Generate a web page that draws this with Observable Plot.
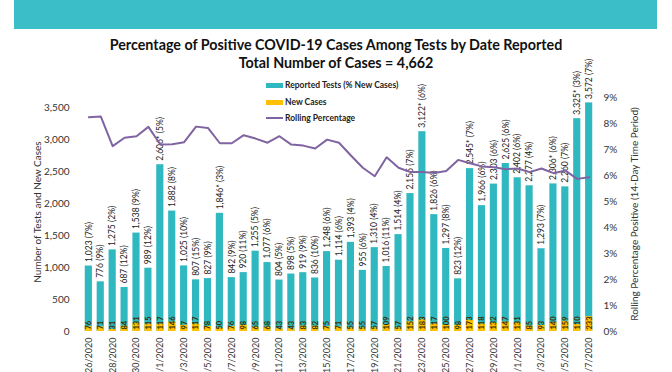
<!DOCTYPE html>
<html>
<head>
<meta charset="utf-8">
<script src="https://cdn.jsdelivr.net/npm/d3@7"></script>
<script src="https://cdn.jsdelivr.net/npm/@observablehq/plot@0.6"></script>
<style>
  body { margin: 0; background: #fff; font-family: Lato, "Open Sans", sans-serif; }
  #wrap { position: relative; width: 672px; height: 372px; overflow: hidden; }
  #wrap svg { position: absolute; left: 0; top: 0; }
  .band { position: absolute; left: 14px; top: 0; width: 643px; height: 29px; background: #3bbec8; }
  .title { position: absolute; left: 0; width: 672px; text-align: center; font-weight: bold; color: #111; font-size: 14.3px; }
  .legend { position: absolute; left: 266px; font-size: 8.5px; font-weight: bold; color: #222; display: flex; align-items: center; }
  .sw { display: inline-block; width: 17px; height: 5px; margin-right: 2px; }
  .ln { display: inline-block; width: 17px; height: 2px; margin-right: 2px; background: #8064a2; }
  .ytitle { position: absolute; font-size: 10px; color: #333; white-space: nowrap; transform: translate(-50%, -50%) rotate(-90deg); }
</style>
</head>
<body>
<div id="wrap">
  <div class="band"></div>
  <div class="title" style="top:36px">Percentage of Positive COVID-19 Cases Among Tests by Date Reported</div>
  <div class="title" style="top:54px">Total Number of Cases = 4,662</div>
</div>
<script>
const dates = ["3/26/2020","3/27/2020","3/28/2020","3/29/2020","3/30/2020","3/31/2020",
  "4/1/2020","4/2/2020","4/3/2020","4/4/2020","4/5/2020","4/6/2020","4/7/2020","4/8/2020","4/9/2020","4/10/2020",
  "4/11/2020","4/12/2020","4/13/2020","4/14/2020","4/15/2020","4/16/2020","4/17/2020","4/18/2020","4/19/2020","4/20/2020",
  "4/21/2020","4/22/2020","4/23/2020","4/24/2020","4/25/2020","4/26/2020","4/27/2020","4/28/2020","4/29/2020","4/30/2020",
  "5/1/2020","5/2/2020","5/3/2020","5/4/2020","5/5/2020","5/6/2020","5/7/2020"];
const tests = [1023,776,1275,687,1538,989,2606,1882,1025,807,827,1846,842,920,1255,1077,804,898,919,836,1248,1114,1393,955,1310,1016,1514,2155,3122,1826,1297,823,2545,1966,2303,2625,2402,2277,1293,2306,2260,3325,3572];
const pctNew = [7,9,2,12,9,12,5,8,10,15,9,3,9,11,5,6,5,5,9,10,6,6,4,6,4,11,4,7,6,6,8,12,7,6,6,6,6,4,7,6,7,3,7];
const starred = ["4/1/2020","4/6/2020","4/23/2020","4/27/2020","5/4/2020","5/6/2020"];
const newCases = [76,71,31,84,131,115,117,146,97,117,78,50,76,98,65,68,43,43,83,82,75,71,55,55,57,109,57,152,183,117,100,98,173,118,132,147,131,85,93,140,159,110,233];
const rolling = [8.24,8.27,7.13,7.45,7.51,7.87,7.19,7.2,7.28,7.88,7.83,7.24,7.24,7.55,7.42,7.26,7.51,7.19,7.15,7.04,7.38,7.26,6.77,6.3,5.97,6.7,6.3,6.13,6.13,6.1,6.17,6.6,6.47,6.35,6.32,6.24,6.27,6.13,6.27,6.09,6.19,5.87,5.93];
const leftTicks = [0,500,1000,1500,2000,2500,3000,3500];
const rightTicks = [0,1,2,3,4,5,6,7,8,9];

const yMax = 3656.25;
const k = yMax / 9; // percent -> left units
const fmt = d3.format(",");

const rows = dates.map((d, i) => ({
  date: d,
  tests: tests[i],
  cases: newCases[i],
  rolling: rolling[i] * k,
  label: fmt(tests[i]) + (starred.includes(d) ? "*" : "") + " (" + pctNew[i] + "%)"
}));

const teal = "#2fb8c0", orange = "#ffc000", purple = "#8064a2";

const chart = Plot.plot({
  width: 672,
  height: 372,
  marginTop: 97,
  marginBottom: 41,
  marginLeft: 80,
  marginRight: 75,
  style: { fontFamily: "Lato, 'Open Sans', sans-serif", background: "transparent", overflow: "visible" },
  x: { type: "band", domain: dates, padding: 0.4, axis: null },
  y: { domain: [0, yMax], axis: null },
  marks: [
    Plot.barY(rows, { x: "date", y: "tests", fill: teal }),
    Plot.barY(rows, { x: "date", y: "cases", fill: orange }),
    Plot.text(rows, { x: "date", y: "tests", text: "label", rotate: -90, textAnchor: "start", lineAnchor: "middle", dy: -4, fontSize: 8.5, fill: "#222" }),
    Plot.text(rows, { x: "date", y: 0, text: d => String(d.cases), rotate: -90, textAnchor: "start", lineAnchor: "middle", dy: -2, fontSize: 7.5, fontWeight: "bold", fill: "#3a3000" }),
    Plot.line(rows, { x: "date", y: "rolling", stroke: purple, strokeWidth: 2 }),
    Plot.axisX({ ticks: dates.filter((d, i) => i % 2 === 0), tickRotate: -90, tickSize: 0, tickPadding: 6, fontSize: 9, color: "#333", label: null }),
    Plot.axisY({ anchor: "left", ticks: leftTicks, tickFormat: fmt, tickSize: 0, tickPadding: 11, fontSize: 10, color: "#333", label: null }),
    Plot.axisY({ anchor: "right", ticks: rightTicks.map(p => p * k), tickFormat: d => Math.round(d / k) + "%", tickSize: 0, tickPadding: 6, fontSize: 10, color: "#333", label: null })
  ]
});

const wrap = document.getElementById("wrap");
wrap.insertBefore(chart, wrap.firstChild.nextSibling);

const legendItems = [
  { y: 80, html: '<span class="sw" style="background:' + teal + '"></span>Reported Tests (% New Cases)' },
  { y: 97, html: '<span class="sw" style="background:' + orange + '"></span>New Cases' },
  { y: 113, html: '<span class="ln"></span>Rolling Percentage' }
];
legendItems.forEach(it => {
  const d = document.createElement("div");
  d.className = "legend";
  d.style.top = it.y + "px";
  d.innerHTML = it.html;
  wrap.appendChild(d);
});

const t1 = document.createElement("div");
t1.className = "ytitle";
t1.style.left = "37px"; t1.style.top = "212px";
t1.textContent = "Number of Tests and New Cases";
wrap.appendChild(t1);
const t2 = document.createElement("div");
t2.className = "ytitle";
t2.style.left = "634px"; t2.style.top = "214px";
t2.textContent = "Rolling Percentage Positive (14-Day Time Period)";
wrap.appendChild(t2);
</script>
</body>
</html>
